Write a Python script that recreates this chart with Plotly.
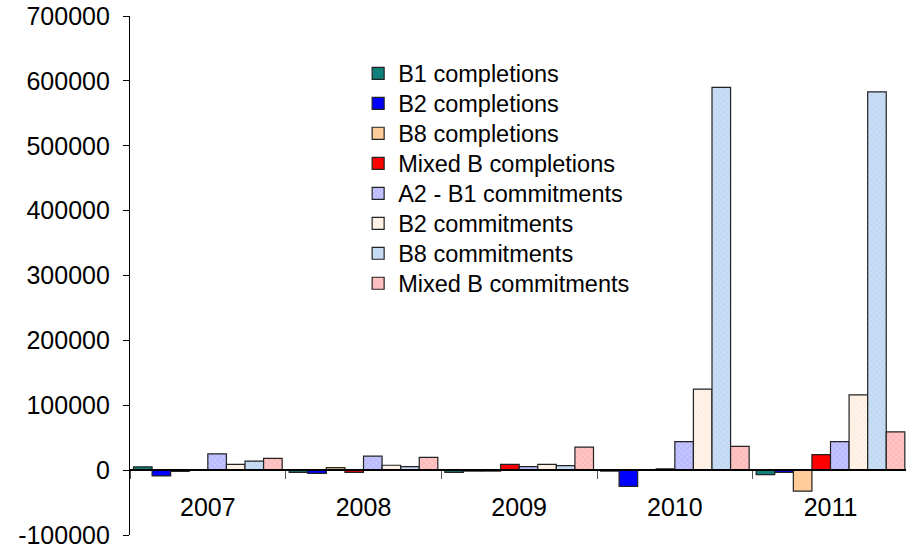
import plotly.graph_objects as go

years = ["2007", "2008", "2009", "2010", "2011"]

b1_completions = [5000, -3500, -3500, -1500, -7000]
b2_completions = [-9000, -5000, -1500, -25000, -3500]
b8_completions = [-2000, 4000, -1500, 0, -32500]
mixed_b_completions = [0, -3500, 9000, 2000, 24000]
a2_b1_commitments = [25000, 21500, 5500, 44000, 44000]
b2_commitments = [9000, 7500, 9000, 125000, 116000]
b8_commitments = [14000, 5500, 7000, 590000, 583000]
mixed_b_commitments = [18000, 19500, 35500, 36500, 59000]

y_ticks = [-100000, 0, 100000, 200000, 300000, 400000, 500000, 600000, 700000]

series = [
    ("B1 completions", b1_completions, "#0f7f7a", None),
    ("B2 completions", b2_completions, "#0000ff", None),
    ("B8 completions", b8_completions, "#ffcc99", None),
    ("Mixed B completions", mixed_b_completions, "#ff0000", None),
    ("A2 - B1 commitments", a2_b1_commitments, "#c4c4ff", "#8a8af0"),
    ("B2 commitments", b2_commitments, "#fff3e8", "#f5dcc8"),
    ("B8 commitments", b8_commitments, "#c9def5", "#9fc0e6"),
    ("Mixed B commitments", mixed_b_commitments, "#ffc4c4", "#f08e8e"),
]

FONT = "Liberation Sans, Arial, sans-serif"
MARGIN_T, MARGIN_B, HEIGHT = 16, 13, 548
plot_h = HEIGHT - MARGIN_T - MARGIN_B

fig = go.Figure()
layout_legends = {}
for i, (name, vals, color, fg) in enumerate(series):
    marker = dict(color=color, line=dict(color="#222222", width=1.2))
    if fg is not None:
        marker["pattern"] = dict(shape="x", fgcolor=fg, bgcolor=color,
                                 size=4, solidity=0.25, fillmode="overlay")
    legend_id = "legend" if i == 0 else f"legend{i + 1}"
    fig.add_trace(go.Bar(name=name, x=years, y=vals, marker=marker,
                         legend=legend_id))
    # one legend entry per row, rows 30 px apart
    center_px = 73.5 + 30 * i
    layout_legends[legend_id] = dict(
        x=0.294, y=1 - (center_px - MARGIN_T) / plot_h,
        xanchor="left", yanchor="middle",
        bgcolor="rgba(0,0,0,0)",
        font=dict(family=FONT, size=23.5, color="#000000"),
        itemclick=False, itemdoubleclick=False,
    )

fig.update_layout(
    width=906,
    height=HEIGHT,
    margin=dict(l=130, r=0, t=MARGIN_T, b=MARGIN_B),
    paper_bgcolor="white",
    plot_bgcolor="white",
    barmode="group",
    bargap=0.045,
    bargroupgap=0,
    font=dict(family=FONT, size=24, color="#000000"),
    showlegend=True,
    xaxis=dict(
        type="category",
        range=[-0.5, 4.485],
        anchor="free",
        position=0.125,
        showline=True,
        linecolor="#000000",
        linewidth=1.5,
        ticks="outside",
        tickson="boundaries",
        ticklen=8,
        tickcolor="#555555",
        tickfont=dict(size=25),
        ticklabelstandoff=15,
        showgrid=False,
        zeroline=False,
    ),
    yaxis=dict(
        range=[-100000, 700000],
        domain=[0, 1],
        tickvals=y_ticks,
        ticktext=[str(v) for v in y_ticks],
        tickfont=dict(size=25),
        showline=True,
        linecolor="#000000",
        linewidth=1.2,
        ticks="outside",
        ticklen=6,
        tickcolor="#000000",
        ticklabelstandoff=8,
        ticklabeloverflow="allow",
        showgrid=False,
        zeroline=False,
    ),
    **layout_legends,
)

fig.write_html("out.html")
